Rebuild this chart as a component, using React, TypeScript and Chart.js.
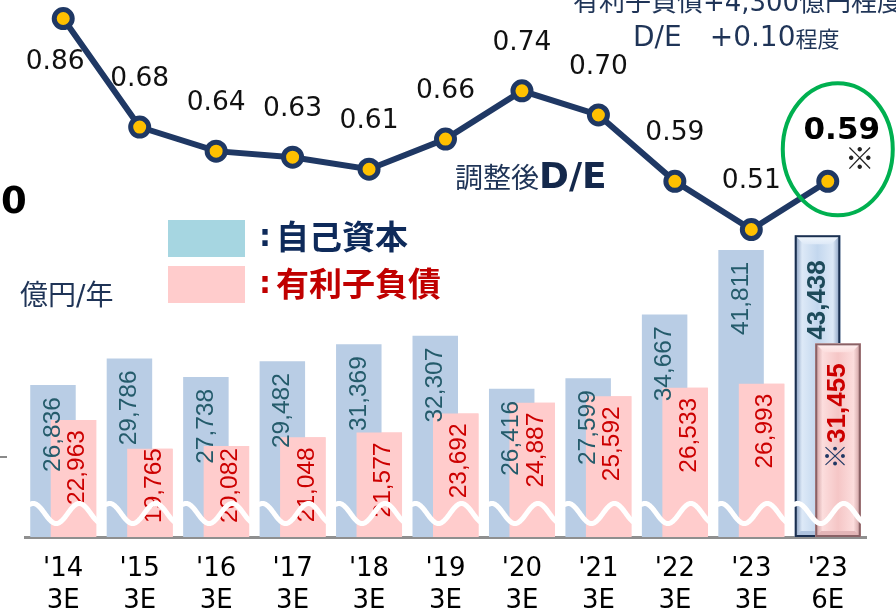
import React, { useEffect, useRef } from 'react';
import { Chart, registerables } from 'chart.js';

Chart.register(...registerables);

// ---- data ----
const fiscalYears = ["'14", "'15", "'16", "'17", "'18", "'19", "'20", "'21", "'22", "'23", "'23"];
const periods = ['3E', '3E', '3E', '3E', '3E', '3E', '3E', '3E', '3E', '3E', '6E'];
const equity = [26836, 29786, 27738, 29482, 31369, 32307, 26416, 27599, 34667, 41811, 43438];
const debt = [22963, 19765, 20082, 21048, 21577, 23692, 24887, 25592, 26533, 26993, 31455];
const deRatio = [0.86, 0.68, 0.64, 0.63, 0.61, 0.66, 0.74, 0.7, 0.59, 0.51, 0.59];
const debtMarks = ['', '', '', '', '', '', '', '', '', '', '※'];
const barAxisMin = 10000;
const barAxisMax = 69500;
const deAxisMin = 0;
const deAxisMax = 0.8907;

const NAVY = '#1F3457';
const CJK = '"Noto Sans CJK JP"';
const LATIN = '"DejaVu Sans"';

function fmt(n: number) {
  return n.toLocaleString('en-US');
}

type Pal = { border: string; edge: string; light: string; mid: string; hi: string; low: string };
const bluePal: Pal = { border: '#1B3050', edge: '#7F97BB', light: '#DDE9F7', mid: '#C3D7EE', hi: '#F4F8FD', low: '#AFC3DE' };
const pinkPal: Pal = { border: '#8A6266', edge: '#C9999B', light: '#FCDDDD', mid: '#F5C6C6', hi: '#FFF3F3', low: '#E3B5B7' };

function drawBevel(ctx: CanvasRenderingContext2D, el: any, pal: Pal) {
  const { x, y, base, width } = el.getProps(['x', 'y', 'base', 'width'], true);
  const l = x - width / 2;
  const r = x + width / 2;
  const t = Math.min(y, base);
  const b = Math.max(y, base);
  ctx.save();
  const g = ctx.createLinearGradient(l, 0, r, 0);
  g.addColorStop(0, pal.edge);
  g.addColorStop(0.16, pal.light);
  g.addColorStop(0.5, pal.mid);
  g.addColorStop(0.84, pal.light);
  g.addColorStop(1, pal.edge);
  ctx.fillStyle = g;
  ctx.fillRect(l, t, width, b - t);
  const bv = 9;
  const tg = ctx.createLinearGradient(0, t, 0, t + bv);
  tg.addColorStop(0, pal.hi);
  tg.addColorStop(1, pal.light);
  ctx.fillStyle = tg;
  ctx.beginPath();
  ctx.moveTo(l, t);
  ctx.lineTo(r, t);
  ctx.lineTo(r - bv, t + bv);
  ctx.lineTo(l + bv, t + bv);
  ctx.closePath();
  ctx.fill();
  ctx.fillStyle = pal.low;
  ctx.beginPath();
  ctx.moveTo(l, b);
  ctx.lineTo(r, b);
  ctx.lineTo(r - 6, b - 6);
  ctx.lineTo(l + 6, b - 6);
  ctx.closePath();
  ctx.fill();
  ctx.strokeStyle = pal.border;
  ctx.lineWidth = 2;
  ctx.strokeRect(l + 1, t + 1, width - 2, b - t - 2);
  ctx.restore();
}

function drawRotated(ctx: CanvasRenderingContext2D, x: number, yTop: number, parts: { text: string; color: string }[], font: string) {
  ctx.save();
  ctx.font = font;
  const total = parts.reduce((s, p) => s + ctx.measureText(p.text).width, 0);
  ctx.translate(x, yTop);
  ctx.rotate(-Math.PI / 2);
  ctx.textAlign = 'left';
  ctx.textBaseline = 'middle';
  let cx = -total;
  for (const p of parts) {
    ctx.fillStyle = p.color;
    ctx.fillText(p.text, cx, 0);
    cx += ctx.measureText(p.text).width;
  }
  ctx.restore();
  return total;
}

const overlayPlugin = {
  id: 'overlay',
  afterDatasetDraw(chart: any, args: any) {
    if (args.index !== 0) return;
    const ctx: CanvasRenderingContext2D = chart.ctx;
    const last = equity.length - 1;
    const blueMeta = chart.getDatasetMeta(0);
    drawBevel(ctx, blueMeta.data[last], bluePal);
    const pinkMeta = chart.getDatasetMeta(1);
    pinkMeta.controller.draw();
    drawBevel(ctx, pinkMeta.data[last], pinkPal);
  },
  afterDatasetsDraw(chart: any) {
    const ctx: CanvasRenderingContext2D = chart.ctx;
    const area = chart.chartArea;
    const last = equity.length - 1;
    // bar value labels
    const blueMeta = chart.getDatasetMeta(0);
    const pinkMeta = chart.getDatasetMeta(1);
    blueMeta.data.forEach((el: any, i: number) => {
      const isLast = i === last;
      const font = `${isLast ? 'bold 26px' : '24.5px'} "Liberation Sans", Arial, sans-serif`;
      ctx.font = font;
      const w = ctx.measureText(fmt(equity[i])).width;
      const top = Math.min(el.y + (isLast ? 25 : 12), el.base - 14 - w);
      drawRotated(ctx, el.x, top, [{ text: fmt(equity[i]), color: isLast ? '#1D4A5A' : '#245B6B' }], font);
    });
    pinkMeta.data.forEach((el: any, i: number) => {
      const isLast = i === last;
      const font = `${isLast ? 'bold 26px' : '24.5px'} "Liberation Sans", Arial, ${CJK}, sans-serif`;
      ctx.font = font;
      const parts = [] as { text: string; color: string }[];
      if (debtMarks[i]) parts.push({ text: debtMarks[i], color: '#1F3864' });
      parts.push({ text: fmt(debt[i]), color: '#CC0000' });
      const w = parts.reduce((s, p) => s + ctx.measureText(p.text).width, 0);
      const top = Math.min(el.y + (isLast ? 20 : 10), el.base - 14 - w);
      drawRotated(ctx, el.x + (isLast ? 0 : 4), top, parts, font);
    });
    // broken-axis waves
    const xs = chart.scales.x;
    ctx.save();
    ctx.strokeStyle = '#FFFFFF';
    ctx.lineWidth = 5;
    ctx.lineCap = 'round';
    for (let i = 0; i < fiscalYears.length; i++) {
      const cx = xs.getPixelForValue(i);
      const xl = cx - 33;
      const xr = cx + 35;
      const yc = area.bottom - 23.5;
      ctx.beginPath();
      for (let x = xl; x <= xr; x += 1) {
        const y = yc + 10 * Math.cos((Math.PI * (x - (xl + 26))) / 23);
        if (x === xl) ctx.moveTo(x, y);
        else ctx.lineTo(x, y);
      }
      ctx.stroke();
    }
    ctx.restore();
    // D/E labels
    const lineMeta = chart.getDatasetMeta(2);
    ctx.save();
    ctx.textAlign = 'center';
    ctx.textBaseline = 'middle';
    lineMeta.data.forEach((pt: any, i: number) => {
      const label = deRatio[i].toFixed(2);
      if (i === last) {
        ctx.fillStyle = '#000';
        ctx.font = `bold 31px ${LATIN}`;
        ctx.fillText(label, pt.x + 14, pt.y - 50);
        ctx.font = `30px ${CJK}`;
        ctx.fillStyle = '#222';
        ctx.fillText('※', pt.x + 32, pt.y - 24);
        ctx.strokeStyle = '#00B050';
        ctx.lineWidth = 4;
        ctx.beginPath();
        ctx.ellipse(pt.x + 10, pt.y - 32, 55, 66, 0, 0, Math.PI * 2);
        ctx.stroke();
      } else {
        ctx.fillStyle = '#111';
        ctx.font = `26.5px ${LATIN}`;
        if (pt.y - 48 < 20) ctx.fillText(label, pt.x - 8, pt.y + 44);
        else ctx.fillText(label, pt.x, pt.y - 48);
      }
    });
    ctx.restore();
  },
  afterDraw(chart: any) {
    const ctx: CanvasRenderingContext2D = chart.ctx;
    ctx.save();
    ctx.textBaseline = 'alphabetic';
    // top notes
    ctx.fillStyle = NAVY;
    ctx.textAlign = 'center';
    ctx.font = `26px ${LATIN}, ${CJK}`;
    ctx.fillText('有利子負債+4,300億円程度', 738, 11);
    ctx.textAlign = 'left';
    ctx.font = `28px ${LATIN}, ${CJK}`;
    const t1 = 'D/E\u3000+0.10';
    ctx.fillText(t1, 633, 46);
    const w1 = ctx.measureText(t1).width;
    ctx.font = `22px ${CJK}`;
    ctx.fillText('程度', 633 + w1, 47);
    // 調整後D/E
    ctx.font = `28px ${CJK}`;
    ctx.fillText('調整後', 455, 188);
    const w2 = ctx.measureText('調整後').width;
    ctx.font = `bold 36px ${LATIN}`;
    ctx.fillStyle = '#14284B';
    ctx.fillText('D/E', 455 + w2, 188);
    // legend
    ctx.fillStyle = '#A6D6E1';
    ctx.fillRect(168, 220, 77, 37);
    ctx.fillStyle = '#FFCCCC';
    ctx.fillRect(168, 266, 77, 37);
    ctx.textBaseline = 'middle';
    ctx.font = `bold 30px ${LATIN}`;
    ctx.fillStyle = '#0E2A5A';
    ctx.textAlign = 'center';
    ctx.fillText(':', 265, 238);
    ctx.fillStyle = '#C00000';
    ctx.fillText(':', 265, 285);
    ctx.textAlign = 'left';
    ctx.font = `bold 33px ${CJK}`;
    ctx.fillStyle = '#0E2A5A';
    ctx.fillText('自己資本', 276, 236);
    ctx.fillStyle = '#C00000';
    ctx.fillText('有利子負債', 276, 283);
    // unit
    ctx.font = `28px ${LATIN}, ${CJK}`;
    ctx.fillStyle = NAVY;
    ctx.fillText('億円/年', 20, 298);
    // stray left-edge fragments
    ctx.font = `bold 37px ${LATIN}`;
    ctx.fillStyle = '#000';
    ctx.fillText('0', 1, 203);
    ctx.strokeStyle = '#8A8A8A';
    ctx.lineWidth = 2;
    ctx.beginPath();
    ctx.moveTo(0, 457);
    ctx.lineTo(7, 457);
    ctx.stroke();
    ctx.restore();
  },
};

export default function App() {
  const ref = useRef<HTMLCanvasElement>(null);
  useEffect(() => {
    const canvas = ref.current;
    if (!canvas) return;
    const last = equity.length - 1;
    const chart = new Chart(canvas, {
      type: 'bar',
      data: {
        labels: fiscalYears.map((y, i) => [y, periods[i]]),
        datasets: [
          {
            type: 'bar',
            label: '自己資本',
            data: equity,
            base: barAxisMin,
            yAxisID: 'y',
            backgroundColor: equity.map((_, i) => (i === last ? '#C3D7EE' : '#B9CDE5')),
            borderWidth: 0,
            categoryPercentage: 0.536,
            barPercentage: 2.22,
            order: 0,
          } as any,
          {
            type: 'bar',
            label: '有利子負債',
            data: debt,
            base: barAxisMin,
            yAxisID: 'y',
            backgroundColor: debt.map((_, i) => (i === last ? '#F5C6C6' : '#FFCCCC')),
            borderWidth: 0,
            categoryPercentage: 0.536,
            barPercentage: 2.22,
            order: 0,
          } as any,
          {
            type: 'line',
            label: '調整後D/E',
            data: deRatio,
            yAxisID: 'y2',
            borderColor: '#1F3864',
            borderWidth: 6,
            pointRadius: 9,
            pointBorderWidth: 5,
            pointBackgroundColor: '#FFC000',
            pointBorderColor: '#1F3864',
            tension: 0,
            clip: false,
            order: -1,
          } as any,
        ],
      },
      options: {
        responsive: false,
        animation: false,
        events: [],
        layout: { autoPadding: false, padding: { left: 25, right: 30, top: 0, bottom: -19.4 } },
        plugins: { legend: { display: false }, tooltip: { enabled: false } },
        scales: {
          x: {
            offset: true,
            grid: { display: false, drawTicks: false },
            border: { display: true, color: '#8F8F8F', width: 3 },
            ticks: {
              color: '#000',
              padding: 17,
              maxRotation: 0,
              autoSkip: false,
              font: { family: 'DejaVu Sans', size: 26, lineHeight: 1.2 },
            },
          },
          y: { display: false, min: barAxisMin, max: barAxisMax },
          y2: { display: false, min: deAxisMin, max: deAxisMax },
        },
      },
      plugins: [overlayPlugin],
    } as any);
    return () => chart.destroy();
  }, []);
  return (
    <div style={{ position: 'fixed', left: 0, top: 0, width: 896, height: 614, background: '#fff', overflow: 'hidden' }}>
      <canvas ref={ref} width={896} height={614} style={{ width: 896, height: 614, display: 'block' }} />
    </div>
  );
}
